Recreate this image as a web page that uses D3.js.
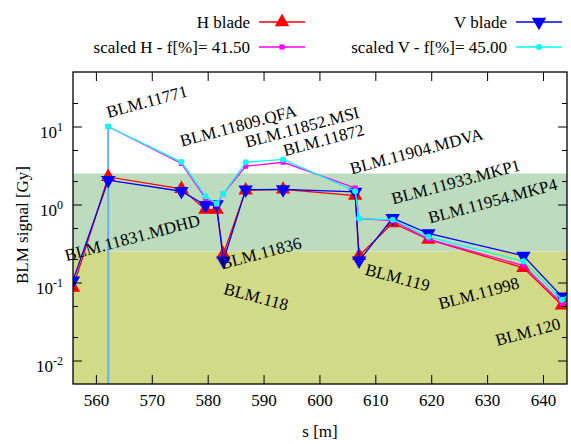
<!DOCTYPE html>
<html>
<head>
<meta charset="utf-8">
<script src="https://cdn.jsdelivr.net/npm/d3@7"></script>
<style>
  body { margin: 0; background: #fff; }
  svg text { font-family: "Liberation Serif", "Times New Roman", Tinos, "DejaVu Serif", serif !important; }
</style>
</head>
<body>
<div id="chart"></div>
<script>
// monitor positions along the line [m]
var sPos    = [555.9, 562.2, 575.3, 579.6, 581.6, 582.8, 586.8, 593.5, 606.4, 607.1, 613.1, 619.5, 636.5, 643.4, 650.0];
// measured signals [Gy]
var hBlade  = [0.086, 2.26, 1.59, 0.86, 0.86, 0.23, 1.52, 1.56, 1.30, 0.22, 0.58, 0.356, 0.154, 0.051, 0.14];
var vBlade  = [0.106, 2.05, 1.48, 0.98, 1.00, 0.19, 1.55, 1.56, 1.45, 0.19, 0.67, 0.425, 0.22, 0.066, 0.16];
// scaled signals (null = no value)
var scaledH = [null, 10.0, 3.36, 1.20, 1.00, 1.37, 3.10, 3.48, 1.63, 0.66, 0.62, 0.36, 0.165, 0.054, 0.14];
var scaledV = [null, 10.0, 3.50, 1.28, 1.03, 1.37, 3.48, 3.78, 1.48, 0.66, 0.64, 0.385, 0.187, 0.060, 0.15];

var legendNames = ["H blade", "scaled H - f[%]= 41.50", "V blade", "scaled V - f[%]= 45.00"];

// shaded signal ranges [Gy]
var upperBand = [0.25, 2.5];
var lowerBand = [0.001, 0.25];
var markerS = 562.2;   // vertical marker line
var markerTop = 10.0;

// monitor names and where they are written (s [m], signal [Gy])
var labelNames = ["BLM.11771", "BLM.11809.QFA", "BLM.11852.MSI", "BLM.11872", "BLM.11904.MDVA",
                  "BLM.11933.MKP1", "BLM.11954.MKP4", "BLM.11831.MDHD", "BLM.11836", "BLM.118",
                  "BLM.119", "BLM.11998", "BLM.120"];
var labelS = [562.2, 575.35, 587.0, 593.85, 605.8, 613.2, 619.8, 554.75, 582.6, 582.7, 608.0, 621.6, 631.8];
var labelV = [12.9, 5.5, 5.33, 4.16, 2.43, 1.0, 0.57, 0.1875, 0.147, 0.072, 0.127, 0.045, 0.0153];

var xTicks = [560, 570, 580, 590, 600, 610, 620, 630, 640];
var yTicks = [0.01, 0.1, 1, 10];
var yMinor = [0.02, 0.05, 0.2, 0.5, 2, 5, 20];

var margin = { top: 72, right: 4, bottom: 60, left: 73 },
    width = 571 - margin.left - margin.right,
    height = 444 - margin.top - margin.bottom;

var serif = "'Liberation Serif', 'Times New Roman', Tinos, 'DejaVu Serif', serif";

var x = d3.scaleLinear().domain([555.9, 644.3]).range([0, width]);
var y = d3.scaleLog().domain([0.005, 50]).range([height, 0]);

var root = d3.select("#chart").append("svg")
    .attr("width", 571)
    .attr("height", 444)
    .attr("font-family", serif);
var svg = root.append("g")
    .attr("transform", "translate(" + margin.left + "," + margin.top + ")");

svg.append("clipPath").attr("id", "clip")
    .append("rect").attr("width", width).attr("height", height);

var plot = svg.append("g").attr("clip-path", "url(#clip)");

// background bands
plot.append("rect")
    .attr("x", 0).attr("width", width)
    .attr("y", y(upperBand[1])).attr("height", y(upperBand[0]) - y(upperBand[1]))
    .style("fill", "#bddbbd");
plot.append("rect")
    .attr("x", 0).attr("width", width)
    .attr("y", y(lowerBand[1])).attr("height", y(lowerBand[0]) - y(lowerBand[1]))
    .style("fill", "#d1da86");

// vertical marker
plot.append("line")
    .attr("x1", x(markerS)).attr("x2", x(markerS))
    .attr("y1", y(markerTop)).attr("y2", height)
    .style("stroke", "#69b1ea").style("stroke-width", 2);

function series(vals, color, shape, size, rot) {
    var pts = sPos.map(function (s, i) { return { s: s, v: vals[i] }; });
    var line = d3.line()
        .defined(function (d) { return d.v != null; })
        .x(function (d) { return x(d.s); })
        .y(function (d) { return y(d.v); });
    plot.append("path")
        .datum(pts)
        .style("fill", "none")
        .style("stroke", color)
        .style("stroke-width", 1.3)
        .attr("d", line);
    plot.selectAll(null)
        .data(pts.filter(function (d) { return d.v != null; }))
        .enter().append("path")
        .attr("d", d3.symbol().type(shape).size(size))
        .attr("transform", function (d) {
            return "translate(" + x(d.s) + "," + y(d.v) + ") rotate(" + rot + ")";
        })
        .style("fill", color);
}

series(hBlade, "#ff0000", d3.symbolTriangle, 90, 0);
series(vBlade, "#0000ff", d3.symbolTriangle, 90, 180);
series(scaledH, "#ff00ff", d3.symbolSquare, 26, 0);
series(scaledV, "#00ffff", d3.symbolCircle, 28, 0);

// axes, ticks pointing inward on all four sides
var fontSize = "17px";
var xAxis = svg.append("g")
    .attr("transform", "translate(0," + height + ")")
    .call(d3.axisBottom(x).tickValues(xTicks).tickSize(-9).tickPadding(10).tickFormat(d3.format("d")));
svg.append("g")
    .call(d3.axisTop(x).tickValues(xTicks).tickSize(-9).tickFormat(""));

var yAxis = svg.append("g")
    .call(d3.axisLeft(y).tickValues(yTicks).tickSize(-9).tickPadding(10).tickFormat(""));
svg.append("g")
    .call(d3.axisLeft(y).tickValues(yMinor).tickSize(-5).tickFormat(""));
svg.append("g")
    .attr("transform", "translate(" + width + ",0)")
    .call(d3.axisRight(y).tickValues(yTicks).tickSize(-9).tickFormat(""));
svg.append("g")
    .attr("transform", "translate(" + width + ",0)")
    .call(d3.axisRight(y).tickValues(yMinor).tickSize(-5).tickFormat(""));

svg.selectAll(".domain").remove();
svg.selectAll(".tick line").style("stroke", "#000");
svg.selectAll("g").attr("font-family", serif);
xAxis.selectAll("text").style("font-size", fontSize).style("fill", "#000");

// y labels as 10^n
yAxis.selectAll(".tick text").each(function (d) {
    var t = d3.select(this);
    t.text(null)
        .attr("x", -10)
        .attr("dy", "10.5")
        .style("font-size", fontSize)
        .style("fill", "#000");
    t.append("tspan").text("10");
    t.append("tspan")
        .attr("dy", -7)
        .style("font-size", "12px")
        .text(Math.round(Math.log10(d)));
});

// frame
svg.append("rect")
    .attr("width", width).attr("height", height)
    .style("fill", "none").style("stroke", "#000").style("stroke-width", 1.3);

// monitor labels
var falling = ["BLM.118", "BLM.119"];
svg.selectAll(".blm")
    .data(labelNames)
    .enter().append("text")
    .attr("class", "blm")
    .attr("transform", function (d, i) {
        return "translate(" + x(labelS[i]) + "," + y(labelV[i]) + ") rotate(" + (falling.indexOf(d) >= 0 ? 15 : -15) + ")";
    })
    .style("font-size", fontSize)
    .text(function (d) { return d; });

// axis titles
svg.append("text")
    .attr("x", width / 2).attr("y", height + 53)
    .attr("text-anchor", "middle")
    .style("font-size", fontSize)
    .text("s [m]");
svg.append("text")
    .attr("transform", "translate(-45," + (height / 2 - 3) + ") rotate(-90)")
    .attr("text-anchor", "middle")
    .style("font-size", fontSize)
    .text("BLM signal [Gy]");

// legend
var legColors = ["#ff0000", "#ff00ff", "#0000ff", "#00ffff"];
var legShapes = [d3.symbolTriangle, d3.symbolSquare, d3.symbolTriangle, d3.symbolCircle];
var legSizes = [90, 26, 90, 28];
var legRot = [0, 0, 180, 0];
var legend = root.append("g");
legendNames.forEach(function (name, i) {
    var col = Math.floor(i / 2), row = i % 2;
    var xr = col === 0 ? 250 : 507;
    var yy = 22 + row * 25;
    legend.append("text")
        .attr("x", xr).attr("y", yy + 6)
        .attr("text-anchor", "end")
        .style("font-size", fontSize)
        .text(name);
    legend.append("line")
        .attr("x1", xr + 9).attr("x2", xr + 55)
        .attr("y1", yy).attr("y2", yy)
        .style("stroke", legColors[i]).style("stroke-width", 1.3);
    legend.append("path")
        .attr("d", d3.symbol().type(legShapes[i]).size(legSizes[i]))
        .attr("transform", "translate(" + (xr + 32) + "," + yy + ") rotate(" + legRot[i] + ")")
        .style("fill", legColors[i]);
});
</script>
</body>
</html>
